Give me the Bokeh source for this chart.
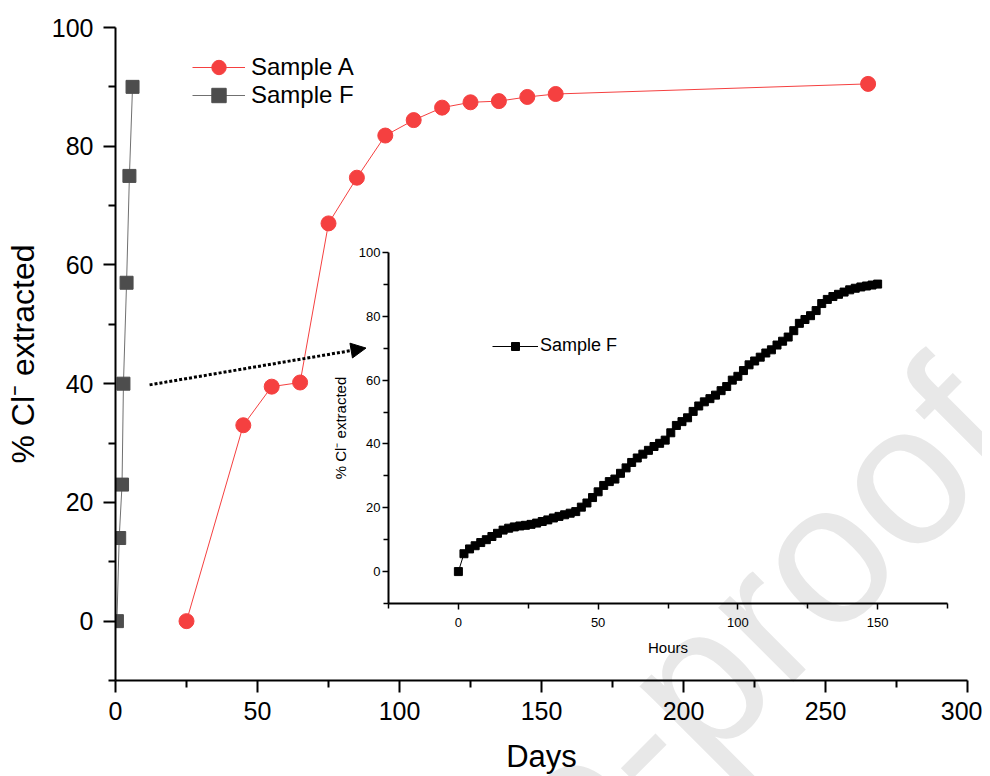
import math
from bokeh.plotting import figure
from bokeh.models import (Range1d, FixedTicker, Legend, LegendItem, Arrow,
                          NormalHead)
from bokeh.core.properties import value
from bokeh.layouts import column, row
from bokeh.embed import file_html
from bokeh.resources import INLINE

# ---------------- data ----------------
a_days = [25, 45, 55, 65, 75, 85, 95, 105, 115, 125, 135, 145, 155, 265]
a_pct = [0, 33.0, 39.5, 40.2, 67.0, 74.7, 81.8, 84.4, 86.5, 87.4, 87.6, 88.3, 88.8, 90.5]

f_days = [0.5, 1.3, 2.3, 2.8, 3.9, 4.9, 6.0]
f_pct = [0, 14.0, 23.0, 40.0, 57.0, 75.0, 90.0]

f_hours = [0, 2, 4, 6, 8, 10, 12, 14, 16, 18, 20, 22, 24, 26, 28, 30, 32, 34, 36, 38,
           40, 42, 44, 46, 48, 50, 52, 54, 56, 58, 60, 62, 64, 66, 68, 70, 72, 74, 76, 78,
           80, 82, 84, 86, 88, 90, 92, 94, 96, 98, 100, 102, 104, 106, 108, 110, 112, 114,
           116, 118, 120, 122, 124, 126, 128, 130, 132, 134, 136, 138, 140, 142, 144, 146,
           148, 150]
f_hours_pct = [0, 5.6, 7.1, 8.1, 9.1, 10.0, 11.0, 12.0, 13.0, 13.6, 14.0, 14.3, 14.5, 14.8,
               15.2, 15.7, 16.2, 16.8, 17.3, 17.8, 18.3, 18.8, 20.2, 21.5, 23.2, 25.0, 27.0,
               28.2, 29.0, 30.8, 32.5, 34.2, 35.6, 36.8, 38.0, 39.2, 40.2, 41.2, 43.5, 45.8,
               47.0, 48.2, 50.2, 51.9, 53.2, 54.2, 55.3, 56.7, 58.0, 60.0, 61.2, 63.0, 64.8,
               66.0, 67.2, 68.5, 69.5, 71.0, 72.2, 73.5, 75.5, 77.8, 79.0, 80.2, 81.8, 84.0,
               85.3, 86.2, 86.9, 87.6, 88.3, 88.8, 89.2, 89.5, 89.8, 90.1]

main_x_ticks = [0, 50, 100, 150, 200, 250, 300]
main_x_minor = [25, 75, 125, 175, 225, 275]
main_y_ticks = [0, 20, 40, 60, 80, 100]
main_y_minor = [-10, 10, 30, 50, 70, 90]
inset_x_ticks = [0, 50, 100, 150]
inset_x_minor = [-25, 25, 75, 125, 175]
inset_y_ticks = [0, 20, 40, 60, 80, 100]
inset_y_minor = [-10, 10, 30, 50, 70, 90]

arrow_x = [12, 88.2]
arrow_y = [39.8, 46.0]

watermark_text = ["Journal Pre-proof"]
watermark_x = [-115.0]    # page pixels
watermark_y = [1491.0]    # page pixels (from top)

FONT = "Liberation Sans"
RED = "#F54040"
GRAY_M = "#4D4D4D"
GRAY_L = "#707070"
PAGE_W, PAGE_H = 982, 776
BORDER_L, BORDER_R = 115, 15


def style_axis(ax, ticks, minor, font_size, tick_out, minor_out, lw, tlw, standoff):
    ax.ticker = FixedTicker(ticks=ticks, minor_ticks=minor)
    ax.axis_line_color = "black"
    ax.axis_line_width = lw
    ax.major_tick_line_color = "black"
    ax.minor_tick_line_color = "black"
    ax.major_tick_line_width = tlw
    ax.minor_tick_line_width = tlw
    ax.major_tick_in = 0
    ax.minor_tick_in = 0
    ax.major_tick_out = tick_out
    ax.minor_tick_out = minor_out
    ax.major_label_text_font = FONT
    ax.major_label_text_font_size = font_size
    ax.major_label_text_color = "black"
    ax.major_label_standoff = standoff
    ax.axis_label_text_font = FONT
    ax.axis_label_text_font_style = "normal"
    ax.axis_label_text_color = "black"


def make_legend(items, loc, gw, gh, fs, standoff):
    return Legend(items=items, location=loc, glyph_width=gw, glyph_height=gh,
                  label_height=gh, spacing=0, padding=0, margin=0,
                  label_standoff=standoff, label_text_font=FONT,
                  label_text_font_size=fs, label_text_color="black",
                  border_line_color=None, background_fill_alpha=0)


# ---------------- watermark layer (bottom) ----------------
w = figure(width=PAGE_W, height=PAGE_H, output_backend="svg", toolbar_location=None,
           x_range=Range1d(0, PAGE_W), y_range=Range1d(PAGE_H, 0),
           x_axis_location=None, y_axis_location=None, min_border=0)
w.outline_line_color = None
w.grid.visible = False
w.text(x=watermark_x, y=watermark_y, text=watermark_text, angle=math.radians(45),
       text_font=value(FONT), text_font_size="200px", text_color="#E8E8E8",
       text_align="left", text_baseline="alphabetic")

# ---------------- main figure ----------------
p = figure(width=PAGE_W, height=PAGE_H, output_backend="svg", toolbar_location=None,
           x_range=Range1d(0, 300), y_range=Range1d(-10, 100),
           min_border_left=BORDER_L, min_border_right=BORDER_R, min_border_top=27,
           min_border_bottom=96, background_fill_alpha=0, border_fill_alpha=0,
           margin=(-PAGE_H, 0, 0, 0))
p.outline_line_color = None
p.grid.visible = False

style_axis(p.xaxis[0], main_x_ticks, main_x_minor, "25px", 12, 7, 2, 2, 9)
style_axis(p.yaxis[0], main_y_ticks, main_y_minor, "25px", 12, 7, 2, 2, 10)
p.xaxis[0].axis_label = "Days"
p.xaxis[0].axis_label_text_font_size = "31px"
p.xaxis[0].axis_label_standoff = 16
p.yaxis[0].axis_label = "% Cl\u207b extracted"
p.yaxis[0].axis_label_text_font_size = "32px"
p.yaxis[0].axis_label_standoff = 8

la = p.line(a_days, a_pct, line_color=RED, line_width=1)
sa = p.scatter(a_days, a_pct, marker="circle", size=15, fill_color=RED, line_color=RED)
lf = p.line(f_days, f_pct, line_color=GRAY_L, line_width=1)
sf = p.scatter(f_days, f_pct, marker="square", size=13, fill_color=GRAY_M, line_color=GRAY_M)

p.add_layout(Arrow(end=NormalHead(size=15, fill_color="black", line_color="black", line_width=1),
                   x_start=arrow_x[0], y_start=arrow_y[0], x_end=arrow_x[1], y_end=arrow_y[1],
                   line_color="black", line_width=3, line_dash="3 2"))

p.add_layout(make_legend([LegendItem(label="Sample A", renderers=[la, sa])],
                         (77, 595), 53, 36, "24px", 6))
p.add_layout(make_legend([LegendItem(label="Sample F", renderers=[lf, sf])],
                         (77, 567), 53, 36, "24px", 6))

# ---------------- inset figure ----------------
q = figure(width=689, height=422, output_backend="svg", toolbar_location=None,
           x_range=Range1d(-25, 175), y_range=Range1d(-10, 100),
           min_border_left=BORDER_L, min_border_right=BORDER_R, min_border_top=12,
           min_border_bottom=59, background_fill_alpha=0, border_fill_alpha=0,
           margin=(240 - PAGE_H, 0, 0, 273))
q.outline_line_color = None
q.grid.visible = False
style_axis(q.xaxis[0], inset_x_ticks, inset_x_minor, "13px", 6, 5, 2, 1.5, 8)
style_axis(q.yaxis[0], inset_y_ticks, inset_y_minor, "13px", 6, 5, 2, 1.5, 2)
q.xaxis[0].axis_label = "Hours"
q.xaxis[0].axis_label_text_font_size = "15px"
q.xaxis[0].axis_label_standoff = 9
q.yaxis[0].axis_label = "% Cl\u207b extracted"
q.yaxis[0].axis_label_text_font_size = "15px"
q.yaxis[0].axis_label_standoff = 7

li = q.line(f_hours, f_hours_pct, line_color="black", line_width=1)
si = q.scatter(f_hours, f_hours_pct, marker="square", size=8, fill_color="black",
               line_color="black")
q.add_layout(make_legend([LegendItem(label="Sample F", renderers=[li, si])],
                         (104, 247), 46, 20, "18px", 2))

layout = column(row(w), p, q)
open("out.html", "w").write(file_html(layout, INLINE))
